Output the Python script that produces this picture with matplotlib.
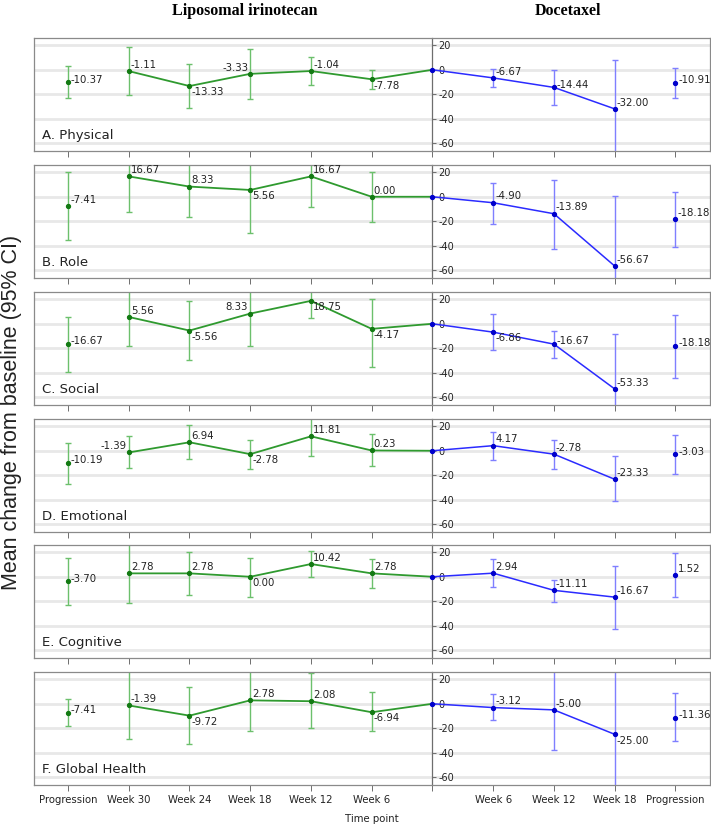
import matplotlib
matplotlib.use("Agg")
import matplotlib.pyplot as plt

plt.rcParams['axes.unicode_minus'] = False
NARROW = ['Liberation Sans Narrow', 'DejaVu Sans Condensed', 'DejaVu Sans']

# positions: Progression, Week 30 .. Week 6 (liposomal), baseline, Week 6 .. Week 18, Progression (docetaxel)
tick_labels = ['Progression', 'Week 30', 'Week 24', 'Week 18', 'Week 12', 'Week 6', '',
               'Week 6', 'Week 12', 'Week 18', 'Progression']
panels = ['A. Physical', 'B. Role', 'C. Social', 'D. Emotional', 'E. Cognitive', 'F. Global Health']

# liposomal irinotecan: Progression, Week 30, Week 24, Week 18, Week 12, Week 6
lipo_mean = [
    [-10.37, -1.11, -13.33, -3.33, -1.04, -7.78],
    [-7.41, 16.67, 8.33, 5.56, 16.67, 0.00],
    [-16.67, 5.56, -5.56, 8.33, 18.75, -4.17],
    [-10.19, -1.39, 6.94, -2.78, 11.81, 0.23],
    [-3.70, 2.78, 2.78, 0.00, 10.42, 2.78],
    [-7.41, -1.39, -9.72, 2.78, 2.08, -6.94],
]
lipo_lo = [
    [-23.2, -20.8, -31.7, -24.3, -12.3, -15.7],
    [-35.7, -12.7, -16.2, -29.5, -8.4, -20.5],
    [-39.5, -18.4, -30.0, -18.4, 5.1, -35.4],
    [-26.9, -14.1, -6.9, -14.7, -4.5, -12.8],
    [-23.0, -21.1, -14.9, -16.2, -0.5, -9.5],
    [-18.4, -29.2, -32.7, -22.2, -20.0, -22.7],
]
lipo_hi = [
    [2.9, 18.4, 4.8, 17.3, 10.1, 0.0],
    [20.5, 45.0, 35.0, 40.0, 42.0, 20.5],
    [5.7, 32.0, 18.9, 35.0, 32.0, 20.0],
    [6.7, 11.7, 20.8, 9.1, 27.0, 13.9],
    [15.7, 30.0, 20.0, 15.7, 21.1, 14.9],
    [4.3, 28.0, 14.1, 27.0, 25.0, 9.5],
]

# docetaxel: Week 6, Week 12, Week 18, Progression
doce_mean = [
    [-6.67, -14.44, -32.00, -10.91],
    [-4.90, -13.89, -56.67, -18.18],
    [-6.86, -16.67, -53.33, -18.18],
    [4.17, -2.78, -23.33, -3.03],
    [2.94, -11.11, -16.67, 1.52],
    [-3.12, -5.00, -25.00, -11.36],
]
doce_lo = [
    [-13.9, -29.0, -75.0, -23.2],
    [-21.9, -42.4, -115.0, -40.8],
    [-21.4, -27.8, -100.0, -44.3],
    [-7.5, -14.7, -41.3, -19.2],
    [-8.6, -20.8, -43.0, -16.5],
    [-13.2, -38.1, -80.0, -30.8],
]
doce_hi = [
    [0.5, 0.0, 8.0, 1.6],
    [11.6, 13.8, 0.8, 3.8],
    [7.8, -5.7, -8.4, 7.3],
    [15.5, 9.1, -4.5, 13.3],
    [14.6, -2.4, 8.6, 19.5],
    [7.6, 30.0, 30.0, 8.6],
]

# label placement per point (lipo 6 then doce 4)
label_pos = [
    ['r', 'ur', 'lr', 'ul', 'ur', 'lr', 'ur', 'r', 'ur', 'r'],
    ['ur', 'ur', 'ur', 'lr', 'ur', 'ur', 'ur', 'ur', 'ur', 'ur'],
    ['r', 'ur', 'lr', 'ul', 'lr', 'lr', 'lr', 'r', 'ur', 'r'],
    ['r', 'ul', 'ur', 'lr', 'ur', 'ur', 'ur', 'ur', 'ur', 'r'],
    ['r', 'ur', 'ur', 'lr', 'ur', 'ur', 'ur', 'ur', 'ur', 'ur'],
    ['r', 'ur', 'lr', 'ur', 'ur', 'lr', 'ur', 'ur', 'lr', 'r'],
]
offsets = {'r': (2, 2, 'left'), 'ur': (1.5, 4.5, 'left'), 'lr': (1.5, -4.5, 'left'),
           'ul': (-1.5, 4.5, 'right')}

GREEN, GREEN_ERR = '#2f9a2f', '#6cc06c'
BLUE, BLUE_ERR = '#2b2bff', '#7f7fff'

fig = plt.figure(figsize=(7.11, 8.27), dpi=100)
W, H = 711, 827
xmin, xmax = -0.56, 10.57
ymin, ymax = -66.5, 26
tops = [38, 165, 292, 419, 545, 672]
ph = 113

for i, name in enumerate(panels):
    ax = fig.add_axes([34 / W, 1 - (tops[i] + ph) / H, 676 / W, ph / H])
    ax.set_xlim(xmin, xmax)
    ax.set_ylim(ymin, ymax)
    for y in [20, 0, -20, -40, -60]:
        ax.axhline(y, color='#e8e8e8', lw=2, zorder=0)

    lm, ll, lh = lipo_mean[i], lipo_lo[i], lipo_hi[i]
    dm, dl, dh = doce_mean[i], doce_lo[i], doce_hi[i]
    lx = list(range(0, 6))
    dx = [7, 8, 9, 10]

    ax.errorbar(lx, lm, yerr=[[m - lo for m, lo in zip(lm, ll)], [hi - m for m, hi in zip(lm, lh)]],
                fmt='none', ecolor=GREEN_ERR, elinewidth=1, capsize=2.5, capthick=1, zorder=2)
    ax.errorbar(dx, dm, yerr=[[m - lo for m, lo in zip(dm, dl)], [hi - m for m, hi in zip(dm, dh)]],
                fmt='none', ecolor=BLUE_ERR, elinewidth=1, capsize=2.5, capthick=1, zorder=2)

    ax.plot(lx[1:] + [6], lm[1:] + [0], color=GREEN, lw=1.3, zorder=3)
    ax.plot(lx, lm, 'o', color='#137a13', ms=2.8, zorder=4)
    ax.plot([6] + dx[:3], [0] + dm[:3], color=BLUE, lw=1.1, zorder=3)
    ax.plot([6] + dx, [0] + dm, 'o', color='#0000cc', ms=2.8, zorder=4)

    xs = lx + dx
    vals = lm + dm
    for j, (x, v) in enumerate(zip(xs, vals)):
        ox, oy, ha = offsets[label_pos[i][j]]
        ax.annotate(f'{v:.2f}', (x, v), xytext=(ox, oy), textcoords='offset points',
                    ha=ha, va='center', fontsize=7.3, family=NARROW, color='#222222', zorder=5)

    ax.text(0.012, 0.14, name, transform=ax.transAxes, fontsize=9.5, family=NARROW,
            color='#222222', va='center')

    for s in ax.spines.values():
        s.set_color('#8a8a8a')
        s.set_linewidth(0.9)
    ax.set_yticks([])
    sec = ax.secondary_yaxis((6 - xmin) / (xmax - xmin))
    sec.set_yticks([20, 0, -20, -40, -60])
    for s in sec.spines.values():
        s.set_color('#6e6e6e')
        s.set_linewidth(0.9)
    sec.tick_params(axis='y', length=3, width=0.7, color='#6e6e6e', labelsize=7,
                    labelcolor='#222222', pad=1.5)
    for lab in sec.get_yticklabels():
        lab.set_family(NARROW)

    ax.set_xticks(range(11))
    ax.tick_params(axis='x', length=4, width=0.7, color='#6e6e6e', labelsize=7.3,
                   labelcolor='#222222', pad=3)
    if i == len(panels) - 1:
        ax.set_xticklabels(tick_labels)
        for lab in ax.get_xticklabels():
            lab.set_family(NARROW)
    else:
        ax.set_xticklabels([])

fig.text(245 / W, 1 - 11 / H, 'Liposomal irinotecan', ha='center', va='center',
         fontsize=11.5, fontweight='bold', family='Liberation Serif')
fig.text(568 / W, 1 - 11 / H, 'Docetaxel', ha='center', va='center',
         fontsize=11.5, fontweight='bold', family='Liberation Serif')
fig.text(12 / W, 1 - 412 / H, 'Mean change from baseline (95% CI)', rotation=90,
         ha='center', va='center', fontsize=15.5, family='Liberation Sans', color='#222222')
fig.text(372 / W, 1 - 819 / H, 'Time point', ha='center', va='center',
         fontsize=7.3, family=NARROW, color='#222222')

fig.savefig('out.png', dpi=100)
